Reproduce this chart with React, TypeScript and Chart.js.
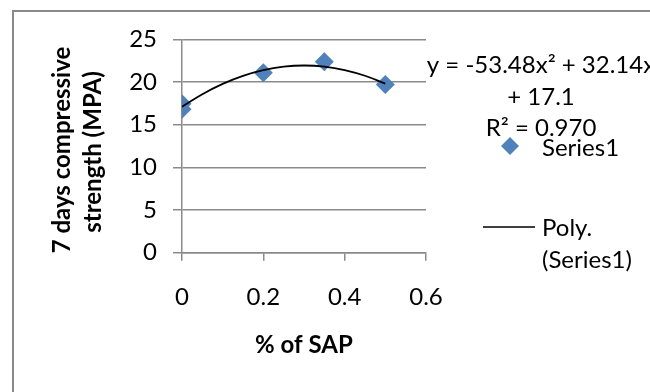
import React, { useEffect, useRef } from "react";
import { Chart, registerables } from "chart.js";

Chart.register(...registerables);

// ---- data ----
const sapPercent = [0, 0, 0.2, 0.35, 0.5];
const strength7d = [17.45, 16.8, 21.07, 22.38, 19.7];

// polynomial trend curve
const trendX = [0, 0.05, 0.1, 0.15, 0.2, 0.25, 0.3, 0.35, 0.4, 0.45, 0.5];
const trendY = [17.1, 18.57, 19.78, 20.72, 21.39, 21.79, 21.93, 21.8, 21.4, 20.73, 19.8];

const xTicks = [0, 0.2, 0.4, 0.6];
const yTicks = [0, 5, 10, 15, 20, 25];

const seriesName = "Series1";
const trendName = ["Poly.", "(Series1)"];
const equationLines = ["y = -53.48x\u00B2 + 32.14x", "+ 17.1", "R\u00B2 = 0.970"];
const xTitle = "% of SAP";
const yTitleLines = ["7 days compressive", "strength (MPA)"];

const FONT = "Lato, 'Open Sans', sans-serif";
const GRID = "#8a8a8a";
const BLUE = "#4F81BD";

const overlay = {
  id: "overlay",
  beforeDraw(chart: any) {
    const ctx = chart.ctx;
    ctx.save();
    ctx.fillStyle = "#ffffff";
    ctx.fillRect(0, 0, chart.width, chart.height);
    ctx.strokeStyle = GRID;
    ctx.lineWidth = 2;
    ctx.beginPath();
    ctx.moveTo(13, chart.height);
    ctx.lineTo(13, 11);
    ctx.lineTo(chart.width, 11);
    ctx.stroke();
    ctx.restore();
  },
  afterDraw(chart: any) {
    const ctx = chart.ctx;
    ctx.save();
    ctx.fillStyle = "#000";
    ctx.textBaseline = "middle";
    // x title
    ctx.font = `bold 24px ${FONT}`;
    ctx.textAlign = "center";
    ctx.fillText(xTitle, 304, 345);
    // y title (rotated)
    ctx.save();
    ctx.translate(62, 150);
    ctx.rotate(-Math.PI / 2);
    ctx.fillText(yTitleLines[0], 0, 0);
    ctx.restore();
    ctx.save();
    ctx.translate(93, 152);
    ctx.rotate(-Math.PI / 2);
    ctx.fillText(yTitleLines[1], 0, 0);
    ctx.restore();
    // equation
    ctx.font = `24px ${FONT}`;
    ctx.textAlign = "center";
    const eqY = [65, 97, 128];
    equationLines.forEach((t, i) => ctx.fillText(t, 541, eqY[i]));
    // legend
    ctx.fillStyle = BLUE;
    ctx.beginPath();
    ctx.moveTo(510 - 9, 146);
    ctx.lineTo(510, 146 - 9);
    ctx.lineTo(510 + 9, 146);
    ctx.lineTo(510, 146 + 9);
    ctx.closePath();
    ctx.fill();
    ctx.fillStyle = "#000";
    ctx.textAlign = "left";
    ctx.fillText(seriesName, 542, 148);
    ctx.strokeStyle = "#000";
    ctx.lineWidth = 1.5;
    ctx.beginPath();
    ctx.moveTo(483, 227);
    ctx.lineTo(535, 227);
    ctx.stroke();
    ctx.fillText(trendName[0], 542, 228);
    ctx.fillText(trendName[1], 542, 260);
    ctx.restore();
  },
};

export default function App() {
  const ref = useRef<HTMLCanvasElement>(null);
  useEffect(() => {
    if (!ref.current) return;
    const chart = new Chart(ref.current, {
      type: "scatter",
      data: {
        datasets: [
          {
            label: trendName.join(" "),
            data: trendX.map((x, i) => ({ x, y: trendY[i] })),
            showLine: true,
            borderColor: "#000",
            borderWidth: 1.8,
            pointRadius: 0,
            tension: 0.4,
            order: 0,
          },
          {
            label: seriesName,
            data: sapPercent.map((x, i) => ({ x, y: strength7d[i] })),
            pointStyle: "rectRot",
            pointRadius: 9.5,
            backgroundColor: BLUE,
            borderColor: BLUE,
            borderWidth: 0,
            order: 1,
          },
        ],
      },
      options: {
        responsive: false,
        animation: false,
        layout: { padding: { left: 0, top: 39.3, right: 224, bottom: 0 } },
        plugins: { legend: { display: false }, tooltip: { enabled: false } },
        scales: {
          x: {
            type: "linear",
            min: 0,
            max: 0.6,
            afterFit: (s: any) => {
              s.height = 392 - 252.7;
            },
            afterBuildTicks: (s: any) => {
              s.ticks = xTicks.map((v) => ({ value: v }));
            },
            ticks: {
              font: { family: FONT, size: 24 },
              color: "#000",
              padding: 22,
              callback: (v: any) => String(parseFloat(Number(v).toFixed(1))),
            },
            grid: { drawOnChartArea: false, drawTicks: true, tickLength: 8, color: GRID, lineWidth: 1.5 },
            border: { display: true, color: GRID, width: 1.5 },
          },
          y: {
            min: 0,
            max: 25,
            afterFit: (s: any) => {
              s.width = 182;
            },
            afterBuildTicks: (s: any) => {
              s.ticks = yTicks.map((v) => ({ value: v }));
            },
            ticks: {
              font: { family: FONT, size: 24 },
              color: "#000",
              padding: 16,
            },
            grid: { color: GRID, lineWidth: 1.5, tickLength: 9 },
            border: { display: true, color: GRID, width: 1.5 },
          },
        },
      },
      plugins: [overlay],
    });
    return () => chart.destroy();
  }, []);
  return (
    <div style={{ position: "absolute", left: 0, top: 0, width: 650, height: 392 }}>
      <canvas ref={ref} width={650} height={392} style={{ display: "block" }} />
    </div>
  );
}
